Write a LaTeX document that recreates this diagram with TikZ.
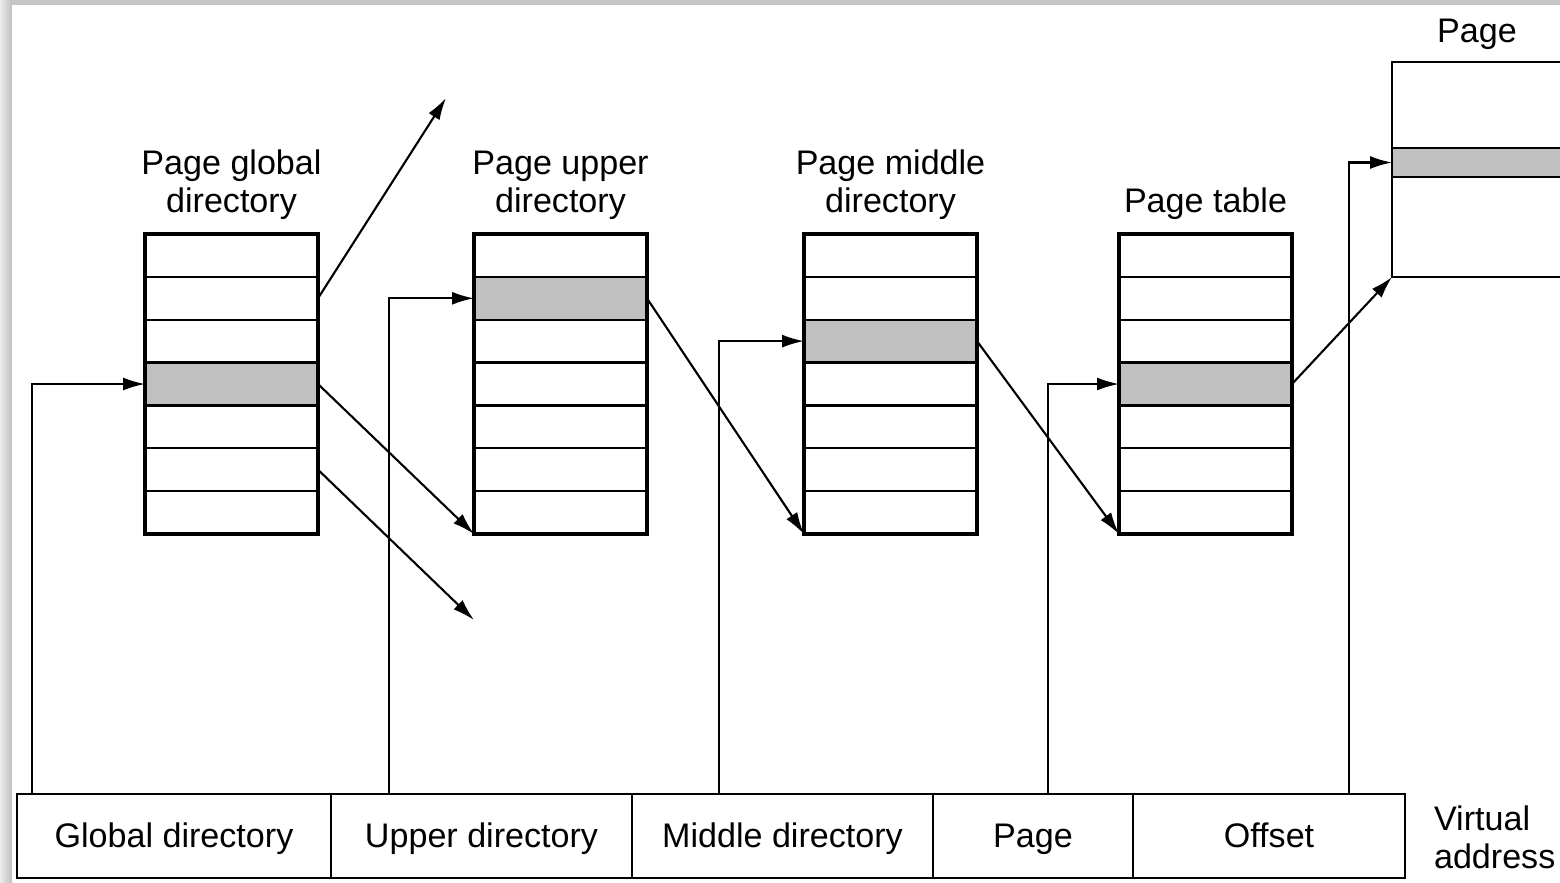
\documentclass[tikz,border=0pt]{standalone}
\usepackage{fontspec}
\setmainfont{Liberation Sans}
\usetikzlibrary{arrows.meta,positioning}

\definecolor{hitgray}{RGB}{192,192,192}

\tikzset{
    cell/.style={draw, minimum width=1.73cm, minimum height=0.4286cm, inner sep=0pt, outer sep=0pt},
    hit/.style={cell, fill=hitgray},
    tableframe/.style={line width=1.15pt},
    field/.style={draw, minimum height=0.84cm, inner sep=0pt, outer sep=0pt, text height=1.6ex, text depth=0.4ex, font=\fontsize{9.7}{10.8}\selectfont},
    lbl/.style={align=center, inner sep=0pt, font=\fontsize{9.7}{10.8}\selectfont}
}

\begin{document}
\begin{tikzpicture}[x=0.1mm, y=-0.1mm, semithick, >={Latex[length=2.2mm,width=1.3mm]}]

    \useasboundingbox (0,0) rectangle (1560,882);
    \clip (0,0) rectangle (1560,882);

    % Frame
    \fill[gray!45] (0,0) rectangle (1560,882);
    \shade[left color=gray!15, right color=gray!50] (0,0) rectangle (12,882);
    \fill[white] (12,5) rectangle (1560,882);

    % Page global directory
    \node at (231.5, 185) (lg) [lbl] {Page global\\directory};
    \node at (231.5, 255.4) (g1) [cell] {};
    \node at (231.5, 298.3) (g2) [cell] {};
    \node at (231.5, 341.1) (g3) [cell] {};
    \node at (231.5, 384.0) (g4) [hit] {};
    \node at (231.5, 426.9) (g5) [cell] {};
    \node at (231.5, 469.7) (g6) [cell] {};
    \node at (231.5, 512.6) (g7) [cell] {};
    \draw[tableframe] (g1.north west) rectangle (g7.south east);

    % Page upper directory
    \node at (560.5, 185) (lu) [lbl] {Page upper\\directory};
    \node at (560.5, 255.4) (u1) [cell] {};
    \node at (560.5, 298.3) (u2) [hit] {};
    \node at (560.5, 341.1) (u3) [cell] {};
    \node at (560.5, 384.0) (u4) [cell] {};
    \node at (560.5, 426.9) (u5) [cell] {};
    \node at (560.5, 469.7) (u6) [cell] {};
    \node at (560.5, 512.6) (u7) [cell] {};
    \draw[tableframe] (u1.north west) rectangle (u7.south east);

    % Page middle directory
    \node at (890.5, 185) (lm) [lbl] {Page middle\\directory};
    \node at (890.5, 255.4) (m1) [cell] {};
    \node at (890.5, 298.3) (m2) [cell] {};
    \node at (890.5, 341.1) (m3) [hit] {};
    \node at (890.5, 384.0) (m4) [cell] {};
    \node at (890.5, 426.9) (m5) [cell] {};
    \node at (890.5, 469.7) (m6) [cell] {};
    \node at (890.5, 512.6) (m7) [cell] {};
    \draw[tableframe] (m1.north west) rectangle (m7.south east);

    % Page table
    \node at (1205.5, 204) (lt) [lbl] {Page table};
    \node at (1205.5, 255.4) (t1) [cell] {};
    \node at (1205.5, 298.3) (t2) [cell] {};
    \node at (1205.5, 341.1) (t3) [cell] {};
    \node at (1205.5, 384.0) (t4) [hit] {};
    \node at (1205.5, 426.9) (t5) [cell] {};
    \node at (1205.5, 469.7) (t6) [cell] {};
    \node at (1205.5, 512.6) (t7) [cell] {};
    \draw[tableframe] (t1.north west) rectangle (t7.south east);

    % Page
    \node at (1477, 34) (lp) [lbl] {Page};
    \node at (1546, 105) (p1) [cell, minimum width=3.08cm, minimum height=0.86cm] {};
    \node at (1546, 162.5) (p2) [hit, minimum width=3.08cm, minimum height=0.29cm] {};
    \node at (1546, 227) (p3) [cell, minimum width=3.08cm, minimum height=1cm] {};

    % Virtual address
    \node at (174, 836) (gd) [field, minimum width=3.14cm] {Global directory};
    \node at (481.5, 836) (ud) [field, minimum width=3.01cm] {Upper directory};
    \node at (782.5, 836) (md) [field, minimum width=3.01cm] {Middle directory};
    \node at (1033, 836) (pf) [field, minimum width=2cm] {Page};
    \node at (1269, 836) (of) [field, minimum width=2.72cm] {Offset};
    \node at (1433, 837) (va) [lbl, anchor=west, align=left] {Virtual\\address};

    % Free ends
    \coordinate (out1) at (446, 98);
    \coordinate (out2) at (474, 620);

    % Arrows
    \draw[->] ([xshift=1.5mm]gd.north west) |- (g4.west);
    \draw[->] ([xshift=5.8mm]ud.north west) |- (u2.west);
    \draw[->] ([xshift=8.7mm]md.north west) |- (m3.west);
    \draw[->] ([xshift=11.5mm]pf.north west) |- (t4.west);
    \draw[->] ([xshift=21.6mm]of.north west) |- (p2.west);

    \draw[->] (g2.east) -- (out1);
    \draw[->] (g4.east) -- (u7.south west);
    \draw[->] (g6.east) -- (out2);
    \draw[->] (u2.east) -- (m7.south west);
    \draw[->] (m3.east) -- (t7.south west);
    \draw[->] (t4.east) -- (p3.south west);

\end{tikzpicture}
\end{document}
